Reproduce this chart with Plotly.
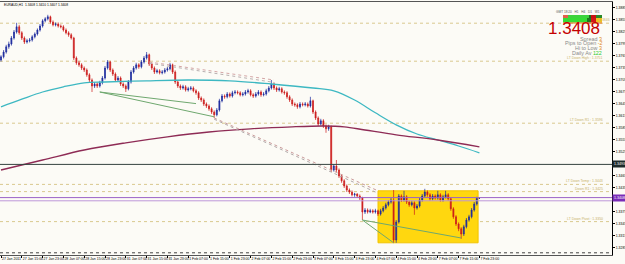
import plotly.graph_objects as go

# ---------------- data ----------------
symbol_title = "EURAUD,H1  1.3408 1.3410 1.3407 1.3408"

time_labels = ["27 Jan 2011", "27 Jan 15:00", "27 Jan 23:00", "28 Jan 07:00", "28 Jan 15:00",
               "28 Jan 23:00", "31 Jan 07:00", "31 Jan 15:00", "31 Jan 23:00", "1 Feb 07:00",
               "1 Feb 15:00", "1 Feb 23:00", "2 Feb 07:00", "2 Feb 15:00", "2 Feb 23:00",
               "3 Feb 07:00", "3 Feb 15:00", "3 Feb 23:00", "4 Feb 07:00", "4 Feb 15:00",
               "4 Feb 23:00", "7 Feb 07:00", "7 Feb 15:00", "7 Feb 23:00"]
time_label_bars = [0, 8, 16, 24, 32, 40, 48, 56, 64, 72, 80, 88, 96, 104, 112, 120,
                   128, 136, 144, 152, 160, 168, 176, 184]

price_ticks = [1.3285, 1.3315, 1.3345, 1.3375, 1.3435, 1.3465, 1.3525, 1.3555,
               1.3585, 1.3615, 1.3645, 1.3675, 1.3705, 1.3735, 1.3765, 1.3795,
               1.3825, 1.3855, 1.3885]

open_ = [
1.3754,1.3762,1.3774,1.3787,1.3794,1.3809,1.3824,1.3837,1.3822,1.3809,
1.3799,1.3802,1.3804,1.3812,1.3819,1.3829,1.3839,1.3852,1.3857,1.3862,
1.3849,1.3842,1.3844,1.3839,1.3837,1.3829,1.3822,1.3817,1.3809,1.3759,
1.3747,1.3742,1.3734,1.3729,1.3717,1.3704,1.3689,1.3694,1.3689,1.3697,
1.3709,1.3734,1.3749,1.3729,1.3719,1.3704,1.3709,1.3694,1.3689,1.3682,
1.3699,1.3724,1.3734,1.3742,1.3737,1.3749,1.3759,1.3767,1.3744,1.3734,
1.3724,1.3727,1.3722,1.3724,1.3729,1.3732,1.3742,1.3724,1.3699,1.3689,
1.3684,1.3687,1.3679,1.3682,1.3684,1.3677,1.3672,1.3659,1.3654,1.3644,
1.3639,1.3632,1.3624,1.3617,1.3629,1.3652,1.3664,1.3662,1.3669,1.3664,
1.3672,1.3674,1.3672,1.3667,1.3669,1.3674,1.3677,1.3667,1.3664,1.3669,
1.3674,1.3667,1.3669,1.3677,1.3684,1.3694,1.3684,1.3679,1.3682,1.3674,
1.3672,1.3662,1.3654,1.3644,1.3642,1.3637,1.3644,1.3642,1.3644,1.3639,
1.3652,1.3624,1.3609,1.3594,1.3602,1.3589,1.3582,1.3587,1.3479,1.3489,
1.3479,1.3464,1.3452,1.3439,1.3429,1.3424,1.3417,1.3419,1.3414,1.3409,
1.3374,1.3379,1.3374,1.3377,1.3374,1.3377,1.3369,1.3377,1.3384,1.3392,
1.3399,1.3404,1.3304,1.3349,1.3414,1.3404,1.3412,1.3399,1.3392,1.3397,
1.3384,1.3389,1.3404,1.3414,1.3424,1.3417,1.3407,1.3414,1.3409,1.3417,
1.3404,1.3412,1.3417,1.3407,1.3382,1.3362,1.3344,1.3332,1.3319,1.3337,
1.3354,1.3362,1.3379,1.3394,1.3408]

high = [
1.3766,1.3779,1.3792,1.3800,1.3814,1.3829,1.3847,1.3842,1.3826,1.3813,
1.3807,1.3809,1.3816,1.3823,1.3833,1.3844,1.3856,1.3861,1.3867,1.3865,
1.3853,1.3848,1.3848,1.3843,1.3841,1.3833,1.3826,1.3821,1.3812,1.3763,
1.3752,1.3746,1.3738,1.3733,1.3721,1.3708,1.3699,1.3698,1.3702,1.3714,
1.3739,1.3754,1.3752,1.3733,1.3723,1.3714,1.3713,1.3698,1.3693,1.3704,
1.3729,1.3739,1.3747,1.3746,1.3754,1.3764,1.3774,1.3770,1.3748,1.3738,
1.3732,1.3731,1.3729,1.3734,1.3737,1.3747,1.3745,1.3728,1.3703,1.3693,
1.3692,1.3691,1.3687,1.3689,1.3688,1.3681,1.3676,1.3663,1.3658,1.3648,
1.3643,1.3636,1.3628,1.3634,1.3657,1.3669,1.3668,1.3674,1.3673,1.3677,
1.3679,1.3678,1.3676,1.3674,1.3679,1.3682,1.3681,1.3671,1.3674,1.3679,
1.3678,1.3674,1.3682,1.3689,1.3704,1.3698,1.3688,1.3687,1.3686,1.3678,
1.3676,1.3666,1.3658,1.3648,1.3646,1.3649,1.3648,1.3649,1.3648,1.3662,
1.3655,1.3628,1.3613,1.3607,1.3606,1.3593,1.3592,1.3590,1.3494,1.3504,
1.3483,1.3468,1.3456,1.3443,1.3433,1.3428,1.3422,1.3421,1.3418,1.3412,
1.3384,1.3383,1.3382,1.3381,1.3382,1.3380,1.3382,1.3389,1.3397,1.3404,
1.3409,1.3429,1.3354,1.3419,1.3418,1.3427,1.3416,1.3403,1.3402,1.3401,
1.3394,1.3409,1.3419,1.3432,1.3428,1.3421,1.3419,1.3418,1.3427,1.3421,
1.3417,1.3427,1.3421,1.3411,1.3386,1.3366,1.3348,1.3336,1.3342,1.3359,
1.3367,1.3384,1.3399,1.3412,1.3410]

low = [
1.3750,1.3758,1.3770,1.3782,1.3790,1.3805,1.3820,1.3817,1.3804,1.3794,
1.3795,1.3798,1.3800,1.3808,1.3815,1.3825,1.3835,1.3848,1.3853,1.3845,
1.3838,1.3838,1.3835,1.3833,1.3825,1.3818,1.3812,1.3805,1.3754,1.3742,
1.3737,1.3729,1.3724,1.3712,1.3699,1.3674,1.3684,1.3684,1.3685,1.3693,
1.3705,1.3730,1.3724,1.3714,1.3699,1.3700,1.3689,1.3684,1.3674,1.3678,
1.3695,1.3720,1.3730,1.3732,1.3733,1.3745,1.3755,1.3739,1.3729,1.3719,
1.3720,1.3718,1.3718,1.3720,1.3725,1.3728,1.3719,1.3694,1.3684,1.3679,
1.3680,1.3675,1.3675,1.3678,1.3673,1.3667,1.3654,1.3649,1.3639,1.3634,
1.3627,1.3619,1.3609,1.3613,1.3625,1.3648,1.3657,1.3658,1.3660,1.3660,
1.3668,1.3668,1.3663,1.3663,1.3665,1.3670,1.3663,1.3659,1.3660,1.3665,
1.3662,1.3663,1.3665,1.3673,1.3680,1.3679,1.3674,1.3675,1.3670,1.3667,
1.3657,1.3649,1.3639,1.3637,1.3632,1.3633,1.3638,1.3638,1.3635,1.3635,
1.3619,1.3604,1.3589,1.3590,1.3584,1.3572,1.3577,1.3474,1.3475,1.3474,
1.3459,1.3447,1.3434,1.3424,1.3419,1.3413,1.3412,1.3410,1.3404,1.3354,
1.3369,1.3370,1.3371,1.3370,1.3370,1.3364,1.3365,1.3373,1.3380,1.3388,
1.3395,1.3297,1.3297,1.3345,1.3399,1.3400,1.3394,1.3387,1.3388,1.3367,
1.3380,1.3385,1.3400,1.3410,1.3412,1.3402,1.3403,1.3405,1.3405,1.3400,
1.3400,1.3408,1.3402,1.3377,1.3357,1.3339,1.3326,1.3307,1.3314,1.3333,
1.3350,1.3358,1.3375,1.3390,1.3407]

close = [
1.3762,1.3774,1.3787,1.3794,1.3809,1.3824,1.3837,1.3822,1.3809,1.3799,
1.3802,1.3804,1.3812,1.3819,1.3829,1.3839,1.3852,1.3857,1.3862,1.3849,
1.3842,1.3844,1.3839,1.3837,1.3829,1.3822,1.3817,1.3809,1.3759,1.3747,
1.3742,1.3734,1.3729,1.3717,1.3704,1.3689,1.3694,1.3689,1.3697,1.3709,
1.3734,1.3749,1.3729,1.3719,1.3704,1.3709,1.3694,1.3689,1.3682,1.3699,
1.3724,1.3734,1.3742,1.3737,1.3749,1.3759,1.3767,1.3744,1.3734,1.3724,
1.3727,1.3722,1.3724,1.3729,1.3732,1.3742,1.3724,1.3699,1.3689,1.3684,
1.3687,1.3679,1.3682,1.3684,1.3677,1.3672,1.3659,1.3654,1.3644,1.3639,
1.3632,1.3624,1.3617,1.3629,1.3652,1.3664,1.3662,1.3669,1.3664,1.3672,
1.3674,1.3672,1.3667,1.3669,1.3674,1.3677,1.3667,1.3664,1.3669,1.3674,
1.3667,1.3669,1.3677,1.3684,1.3694,1.3684,1.3679,1.3682,1.3674,1.3672,
1.3662,1.3654,1.3644,1.3642,1.3637,1.3644,1.3642,1.3644,1.3639,1.3652,
1.3624,1.3609,1.3594,1.3602,1.3589,1.3582,1.3587,1.3479,1.3489,1.3479,
1.3464,1.3452,1.3439,1.3429,1.3424,1.3417,1.3419,1.3414,1.3409,1.3374,
1.3379,1.3374,1.3377,1.3374,1.3377,1.3369,1.3377,1.3384,1.3392,1.3399,
1.3404,1.3304,1.3349,1.3414,1.3404,1.3412,1.3399,1.3392,1.3397,1.3384,
1.3389,1.3404,1.3414,1.3424,1.3417,1.3407,1.3414,1.3409,1.3417,1.3404,
1.3412,1.3417,1.3407,1.3382,1.3362,1.3344,1.3332,1.3319,1.3337,1.3354,
1.3362,1.3379,1.3394,1.3408,1.3408]

bars = list(range(len(close)))

# moving averages (sampled at bar indices)
ma_fast_bars = [0, 8, 16, 24, 32, 40, 56, 72, 88, 104, 120, 128, 136, 144, 152, 160, 168, 176, 184]
ma_fast_vals = [1.3637, 1.3656, 1.3674, 1.3687, 1.3697, 1.3699, 1.3702, 1.3704, 1.3702, 1.3694,
                1.3684, 1.3677, 1.3654, 1.3622, 1.3592, 1.3569, 1.3554, 1.3539, 1.3522]
ma_slow_bars = [0, 16, 32, 48, 64, 80, 96, 112, 124, 132, 140, 152, 168, 184]
ma_slow_vals = [1.3479, 1.3504, 1.3529, 1.3547, 1.3562, 1.3574, 1.3582, 1.3587, 1.3589,
                1.3587, 1.3579, 1.3567, 1.3554, 1.3537]

# trend lines (bar index, price)
tl_upper_a = ([57, 105], [1.3749, 1.3704])
tl_upper_b = ([57, 105], [1.3746, 1.3698])
tl_channel_a = ([82, 145], [1.3609, 1.3427])
tl_channel_b = ([82, 145], [1.3606, 1.3421])
tl_green_1 = ([38, 75], [1.3674, 1.3645])
tl_green_2 = ([38, 82], [1.3674, 1.3612])
tl_green_3 = ([139, 151], [1.3354, 1.3297])
tl_green_4 = ([139, 177], [1.3354, 1.3309])

# range box
box_bars = [145, 183.5]
box_prices = [1.3297, 1.3427]

# horizontal levels
level_prices = [1.3846, 1.3751, 1.3596, 1.3443, 1.3425, 1.3350]
level_texts = ["1.3846", "LT Down High : 1.3751", "LT Down R1 : 1.3596",
               "LT Down Temp : 1.3443", "Down R1 : 1.3425", "LT Down Pivot : 1.3350"]
black_level = 1.3493
bid_level = 1.3408
purple_levels = [1.3410, 1.3402]
bottom_level = 1.3272

y_range = [1.32665, 1.3899]
x_range = [-0.385, 235.0]

# ---------------- style ----------------
W, H = 625, 264
ML, MR, MT, MB = 0, 13, 2, 9
PW, PH = W - ML - MR, H - MT - MB
BG = "#FCFBF6"
UP = "#1B2A9E"
DN = "#CC1A1A"
FONT = "Liberation Sans"


def px(x):
    return (x - ML) / PW


def py(y):
    return (H - MB - y) / PH


fig = go.Figure()

fig.add_trace(go.Candlestick(
    x=bars, open=open_, high=high, low=low, close=close,
    increasing=dict(line=dict(color=UP, width=0.7), fillcolor=UP),
    decreasing=dict(line=dict(color=DN, width=0.7), fillcolor=DN),
    whiskerwidth=0, showlegend=False, hoverinfo="skip"))

fig.add_trace(go.Scatter(x=ma_fast_bars, y=ma_fast_vals, mode="lines",
                         line=dict(color="#3DB8C2", width=1.3, shape="spline"),
                         showlegend=False, hoverinfo="skip"))
fig.add_trace(go.Scatter(x=ma_slow_bars, y=ma_slow_vals, mode="lines",
                         line=dict(color="#8E2B55", width=1.3, shape="spline"),
                         showlegend=False, hoverinfo="skip"))

for (xs, ys), col in [(tl_upper_a, "#D4A6A6"), (tl_upper_b, "#B8B0B0"),
                      (tl_channel_a, "#C99A9A"), (tl_channel_b, "#B0A8A8")]:
    fig.add_trace(go.Scatter(x=xs, y=ys, mode="lines",
                             line=dict(color=col, width=1, dash="dot"),
                             showlegend=False, hoverinfo="skip"))
for xs, ys in [tl_green_1, tl_green_2, tl_green_3, tl_green_4]:
    fig.add_trace(go.Scatter(x=xs, y=ys, mode="lines",
                             line=dict(color="#6FA86F", width=1),
                             showlegend=False, hoverinfo="skip"))

shapes = []
shapes.append(dict(type="rect", xref="x", yref="y", x0=box_bars[0], x1=box_bars[1],
                   y0=box_prices[0], y1=box_prices[1], fillcolor="#FFD70F",
                   line=dict(color="#F2C400", width=1), layer="below"))
for p in level_prices:
    shapes.append(dict(type="line", xref="paper", yref="y", x0=0, x1=1, y0=p, y1=p,
                       line=dict(color="#D9C98F", width=1, dash="dot"), layer="below"))
shapes.append(dict(type="line", xref="paper", yref="y", x0=0, x1=1, y0=black_level, y1=black_level,
                   line=dict(color="#34423F", width=1)))
shapes.append(dict(type="line", xref="paper", yref="y", x0=0, x1=1,
                   y0=purple_levels[0], y1=purple_levels[0], line=dict(color="#9A62C6", width=1)))
shapes.append(dict(type="line", xref="paper", yref="y", x0=0, x1=1,
                   y0=purple_levels[1], y1=purple_levels[1], line=dict(color="#BE98DA", width=1)))
shapes.append(dict(type="line", xref="paper", yref="y", x0=0, x1=1,
                   y0=bottom_level, y1=bottom_level, line=dict(color="#444444", width=1, dash="dot")))

# info panel colour bars (decoration)
panel_rows = [
    (15, 18, [(563, 568, "#E0604A"), (568, 589, "#3DD33D"), (589, 591, "#1E6E1E"),
              (591, 596, "#C81414"), (596, 602, "#2A8A2A")]),
    (18, 22.5, [(563, 587, "#35DC35"), (587, 591, "#1E7A1E"), (591, 596, "#D01818"),
                (596, 602, "#F0C020")]),
    (22.5, 23.5, [(563, 602, "#E8701A")]),
]
for y0, y1, segs in panel_rows:
    for x0, x1, col in segs:
        shapes.append(dict(type="rect", xref="paper", yref="paper", x0=px(x0), x1=px(x1),
                           y0=py(y1), y1=py(y0), fillcolor=col, line=dict(width=0)))

annotations = []
annotations.append(dict(xref="paper", yref="paper", x=px(2), y=py(4.5), xanchor="left",
                        yanchor="middle", text=symbol_title, showarrow=False,
                        font=dict(family=FONT, size=3.3, color="#000000")))
for p, t in zip(level_prices, level_texts):
    xr = 1.0 if t == "1.3846" else px(605)
    annotations.append(dict(xref="paper", yref="y", x=xr, y=p, xanchor="right",
                            yanchor="bottom", yshift=-1, text=t, showarrow=False,
                            font=dict(family=FONT, size=3.5, color="#C8B26A")))
annotations.append(dict(xref="paper", yref="y", x=1.0, y=black_level, xanchor="left",
                        yanchor="middle", text="1.3493", showarrow=False, bgcolor="#1E2B2B",
                        borderpad=1, font=dict(family=FONT, size=3.6, color="#FFFFFF")))
annotations.append(dict(xref="paper", yref="y", x=1.0, y=bid_level, xanchor="left",
                        yanchor="middle", text="1.3408", showarrow=False, bgcolor="#7A2DB8",
                        borderpad=1, font=dict(family=FONT, size=3.6, color="#FFFFFF")))
annotations.append(dict(xref="paper", yref="paper", x=px(602), y=py(11.5), xanchor="right",
                        yanchor="middle", text="GMT 18:20   H1   H4   D1   W1", showarrow=False,
                        font=dict(family=FONT, size=3.2, color="#555555")))
annotations.append(dict(xref="paper", yref="paper", x=px(601.5), y=py(28.5), xanchor="right",
                        yanchor="middle", text="1.3408", showarrow=False,
                        font=dict(family=FONT, size=17, color="#C40000")))
info_rows = [("Spread", "3", "#E08A1E", 38.5), ("Pips to Open", "-2", "#E08A1E", 43.3),
             ("Hi to Low", "3", "#E08A1E", 48.1), ("Daily Av", "122", "#2ECC2E", 52.9)]
for lab, val, col, yy in info_rows:
    annotations.append(dict(xref="paper", yref="paper", x=px(603), y=py(yy), xanchor="right",
                            yanchor="middle", showarrow=False, borderpad=0,
                            text=f"<span style='color:#8A8A8A'>{lab}</span> <span style='color:{col}'>{val}</span>",
                            font=dict(family=FONT, size=5.4, color="#8A8A8A")))

fig.update_layout(
    width=W, height=H, margin=dict(l=ML, r=MR, t=MT, b=MB),
    paper_bgcolor=BG, plot_bgcolor=BG, showlegend=False,
    shapes=shapes, annotations=annotations, boxgap=0.45,
    xaxis=dict(range=x_range, rangeslider=dict(visible=False), showgrid=False, zeroline=False,
               tickmode="array", tickvals=time_label_bars, ticktext=time_labels, tickangle=0,
               ticks="outside", ticklen=2, tickcolor="#000000", ticklabelposition="outside right",
               tickfont=dict(family=FONT, size=3.5, color="#000000"),
               showline=True, linecolor="#555555", linewidth=1, mirror=True),
    yaxis=dict(range=y_range, side="right", showgrid=False, zeroline=False,
               tickmode="array", tickvals=price_ticks, tickformat=".4f",
               ticks="outside", ticklen=2, tickcolor="#000000",
               tickfont=dict(family=FONT, size=3.5, color="#000000"),
               showline=True, linecolor="#000000", linewidth=1),
)

fig.write_html("out.html")
